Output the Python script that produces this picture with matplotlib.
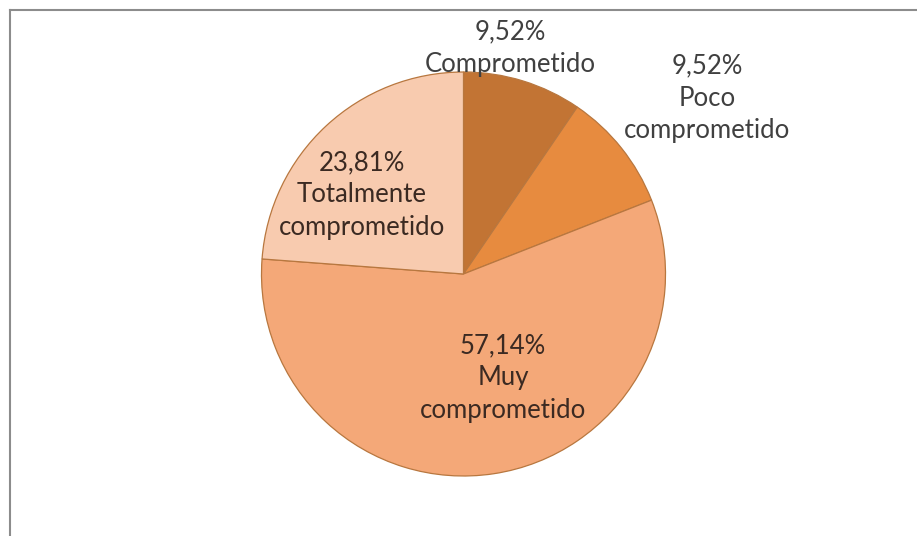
import matplotlib
matplotlib.use("Agg")
import matplotlib.pyplot as plt
from matplotlib.lines import Line2D

# Data
categories = ["Comprometido", "Poco\ncomprometido", "Muy\ncomprometido", "Totalmente\ncomprometido"]
percentages = [9.52, 9.52, 57.14, 23.81]
colors = ["#C27434", "#E78B3F", "#F4A878", "#F8CBAF"]

# Label anchor points (pixels, origin top-left) and text colours
label_pos = [(510, 48), (707, 98), (503, 378), (362, 195)]
label_colors = ["#404040", "#404040", "#3b2a22", "#3b2a22"]

W, H = 917, 536
fig = plt.figure(figsize=(W / 100, H / 100), dpi=100)
ax = fig.add_axes([0, 0, 1, 1])

cx, cy, r = 463.5, H - 274, 202
ax.pie(percentages, colors=colors, startangle=90, counterclock=False,
       center=(cx, cy), radius=r, frame=True,
       wedgeprops=dict(edgecolor="#B8773F", linewidth=0.9))
ax.set_xlim(0, W)
ax.set_ylim(0, H)
ax.set_aspect("equal")
ax.axis("off")

for cat, pct, (x, y), col in zip(categories, percentages, label_pos, label_colors):
    txt = f"{pct:.2f}%".replace(".", ",") + "\n" + cat
    ax.text(x, H - y, txt, ha="center", va="center", fontsize=18.5,
            family="Lato", fontweight="normal", color=col, linespacing=1.38)

# Chart area border (top and left edges)
fig.add_artist(Line2D([10 / W, 1], [1 - 10 / H, 1 - 10 / H], color="#8c8c8c", lw=1.5,
                      transform=fig.transFigure))
fig.add_artist(Line2D([10 / W, 10 / W], [0, 1 - 10 / H], color="#8c8c8c", lw=1.5,
                      transform=fig.transFigure))

fig.savefig("out.png", dpi=100, facecolor="white")
